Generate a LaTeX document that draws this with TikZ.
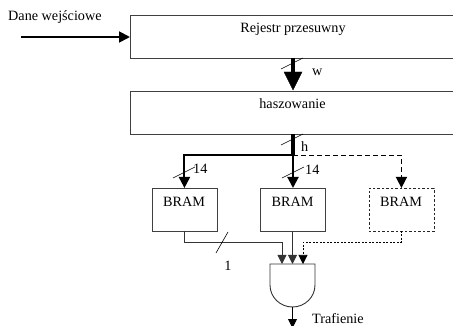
\documentclass[tikz,border=0pt]{standalone}
\usepackage{fontspec}
\setmainfont{Liberation Serif}
\usetikzlibrary{arrows.meta}
\tikzset{
  x=1pt,y=-1pt,
  bigbox/.style={draw=black!75,line width=0.9pt,minimum width=326pt,minimum height=43pt,inner sep=0,anchor=north west},
  bram/.style={draw=black!75,line width=0.9pt,minimum width=65pt,minimum height=43pt,inner sep=0,anchor=north west},
  bramdash/.style={bram,draw=black!85,dash pattern=on 2.5pt off 2pt},
  lbl/.style={font=\fontsize{14.2pt}{16pt}\selectfont,inner sep=0},
  tipbig/.style={-{Triangle[length=11pt,width=11pt]}},
  tipsmall/.style={-{Triangle[length=9pt,width=9pt]}},
  slash/.style={line width=0.6pt},
}
\begin{document}
\begin{tikzpicture}
\useasboundingbox (0,0) rectangle (453,326);
\node[bigbox] (rej) at (130,15) {};
\node[lbl] (rejt) at (293,29) {Rejestr przesuwny};
\node[bigbox] (hasz) at (130,91) {};
\node[lbl] (haszt) at (292.5,104) {haszowanie};
\node[lbl,anchor=west] (dane) at (8,17) {Dane wejściowe};
\coordinate (start) at (21,37);
\draw[tipbig,line width=1.8pt] (start) -- (rej.west|-start);
\coordinate (a) at (293,58);
\draw[line width=4.5pt] (a) -- (293,72);
\draw[fill=black] (284,72) -- (302,72) -- (293,90) -- cycle;
\node[lbl,anchor=west] (w) at (312,72) {w};
\draw[slash] (281,69) -- (303,58);
\coordinate (b) at (293,134);
\coordinate (j) at (293,155.5);
\draw[line width=3.5pt] (b) -- (j);
\draw[slash] (281,145) -- (303,134);
\node[lbl,anchor=west] (h) at (301,147) {h};
\node[bram] (b1) at (151.5,188) {};
\node[bram] (b2) at (260,188) {};
\node[bramdash] (b3) at (368.5,188) {};
\node[lbl] at (184,202) {BRAM};
\node[lbl] at (292.5,202) {BRAM};
\node[lbl] at (401,202) {BRAM};
\draw[line width=2pt,tipbig] (j) -| (b1.north);
\draw[line width=2pt,tipbig] (j) -- (b2.north-|j);
\draw[line width=1.5pt,dash pattern=on 5pt off 3pt,tipbig] (j) -| (b3.north);
\draw[slash] (173,178) -- (195,167);
\draw[slash] (282,178) -- (304,167);
\node[lbl,anchor=west] (n1) at (193,169) {14};
\node[lbl,anchor=west] (n2) at (305,170) {14};
% AND gate
\node[inner sep=0,minimum size=0pt] (gate) at (292.5,285) {};
\draw[line width=0.9pt,draw=black!80] (270,264) -- (315,264) -- (315,285) arc[start angle=0,end angle=180,x radius=22.5pt,y radius=-22pt] -- cycle;
\coordinate (g1) at (282,264);
\coordinate (g2) at (292.5,264);
\coordinate (g3) at (303,264);
\draw[line width=0.9pt,draw=black!80,tipsmall] (184,231) -- (184,242.5) -- (282,242.5) -- (g1);
\draw[line width=0.9pt,draw=black!80,tipsmall] (292.5,231) -- (g2);
\draw[line width=0.6pt,dash pattern=on 2pt off 1.5pt,tipsmall] (401,231) -- (401,242.5) -- (303,242.5) -- (g3);
\draw[slash] (216,253) -- (228,232);
\node[lbl] (one) at (228,266) {1};
\draw[line width=0.9pt,tipsmall] (292.5,307) -- (292.5,328);
\node[lbl,anchor=west] (traf) at (312,319) {Trafienie};
\end{tikzpicture}
\end{document}
